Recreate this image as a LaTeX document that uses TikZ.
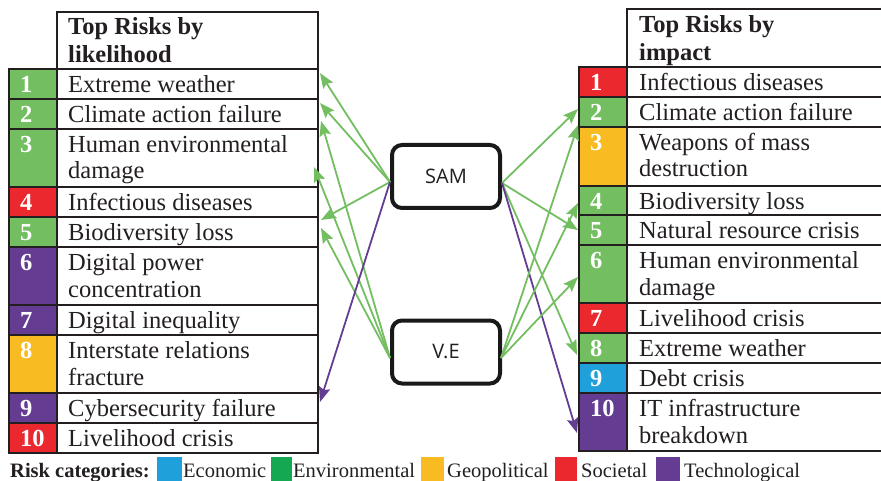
\documentclass[tikz,border=0pt]{standalone}
\usepackage{fontspec}
\setmainfont{Liberation Serif}
\newfontfamily\boxfont{Open Sans}
\usetikzlibrary{arrows.meta,calc}

\definecolor{envgreen}{RGB}{114,190,97}
\definecolor{leggreen}{RGB}{20,168,82}
\definecolor{socred}{RGB}{234,40,46}
\definecolor{geoyellow}{RGB}{248,187,34}
\definecolor{techpurple}{RGB}{100,61,146}
\definecolor{ecoblue}{RGB}{32,160,218}
\definecolor{inkdark}{RGB}{35,31,32}

\tikzset{
  grid/.style={draw=inkdark, line width=1.2pt},
  numtxt/.style={anchor=base west, inner sep=0pt, text=white, font=\fontsize{24.5}{27}\selectfont\bfseries},
  rowtxt/.style={anchor=base west, inner sep=0pt, text=inkdark, font=\fontsize{24.5}{27}\selectfont},
  hdrtxt/.style={rowtxt, font=\fontsize{24.5}{27}\selectfont\bfseries},
  legtxt/.style={anchor=base west, inner sep=0pt, text=inkdark, font=\fontsize{20.5}{22}\selectfont},
  method/.style={draw=black!90, line width=4pt, rounded corners=10pt, minimum width=108pt,
    minimum height=63pt, inner sep=0pt, fill=white, text=inkdark, font=\boxfont\fontsize{20}{22}\selectfont},
  link/.style={draw=envgreen, line width=1.8pt, -{Stealth[length=15pt,width=11.5pt,inset=2.5pt]}},
  techlink/.style={link, draw=techpurple, fill=techpurple},
}

% one table row: name, left x, divider x, right x, top, bottom, colour, number
\newcommand\riskcell[8]{%
  \fill[#7] (#2,#5) rectangle (#3,#6);
  \draw[grid] (#2,#5) rectangle (#4,#6) (#3,#5) -- (#3,#6);
  \node[numtxt] (#1) at (#2+11,#5+23.5) {#8};
}

\begin{document}
\begin{tikzpicture}[x=1pt,y=-1pt]
\useasboundingbox (0,0) rectangle (881,481);

% ---------- ranking by likelihood ----------
\draw[grid] (57,12) rectangle (318,69);
\node[hdrtxt] (lh1) at (68,35) {Top Risks by};
\node[hdrtxt] (lh2) at (68,63) {likelihood};

\riskcell{ln1}{9}{57}{318}{69}{99}{envgreen}{1}
\riskcell{ln2}{9}{57}{318}{99}{129}{envgreen}{2}
\riskcell{ln3}{9}{57}{318}{129}{187}{envgreen}{3}
\riskcell{ln4}{9}{57}{318}{187}{217}{socred}{4}
\riskcell{ln5}{9}{57}{318}{217}{247}{envgreen}{5}
\riskcell{ln6}{9}{57}{318}{247}{305}{techpurple}{6}
\riskcell{ln7}{9}{57}{318}{305}{335}{techpurple}{7}
\riskcell{ln8}{9}{57}{318}{335}{393}{geoyellow}{8}
\riskcell{ln9}{9}{57}{318}{393}{423}{techpurple}{9}
\riskcell{ln10}{9}{57}{318}{423}{453}{socred}{10}

\node[rowtxt] (lt1) at (68,92.5) {Extreme weather};
\node[rowtxt] (lt2) at (68,122.5) {Climate action failure};
\node[rowtxt] (lt3) at (68,152.5) {Human environmental};
\node[rowtxt] (lt3b) at (68,179) {damage};
\node[rowtxt] (lt4) at (68,210.5) {Infectious diseases};
\node[rowtxt] (lt5) at (68,240.5) {Biodiversity loss};
\node[rowtxt] (lt6) at (68,270.5) {Digital power};
\node[rowtxt] (lt6b) at (68,297) {concentration};
\node[rowtxt] (lt7) at (68,328.5) {Digital inequality};
\node[rowtxt] (lt8) at (68,358.5) {Interstate relations};
\node[rowtxt] (lt8b) at (68,385) {fracture};
\node[rowtxt] (lt9) at (68,416.5) {Cybersecurity failure};
\node[rowtxt] (lt10) at (68,446.5) {Livelihood crisis};

% ---------- ranking by impact ----------
\draw[grid] (627,9) rectangle (884,67);
\node[hdrtxt] (rh1) at (639,33) {Top Risks by};
\node[hdrtxt] (rh2) at (639,61) {impact};

\riskcell{rn1}{579}{627}{884}{67}{97}{socred}{1}
\riskcell{rn2}{579}{627}{884}{97}{127}{envgreen}{2}
\riskcell{rn3}{579}{627}{884}{127}{186}{geoyellow}{3}
\riskcell{rn4}{579}{627}{884}{186}{215}{envgreen}{4}
\riskcell{rn5}{579}{627}{884}{215}{245}{envgreen}{5}
\riskcell{rn6}{579}{627}{884}{245}{303}{envgreen}{6}
\riskcell{rn7}{579}{627}{884}{303}{333}{socred}{7}
\riskcell{rn8}{579}{627}{884}{333}{363}{envgreen}{8}
\riskcell{rn9}{579}{627}{884}{363}{393}{ecoblue}{9}
\riskcell{rn10}{579}{627}{884}{393}{451}{techpurple}{10}

\node[rowtxt] (rt1) at (639,90.5) {Infectious diseases};
\node[rowtxt] (rt2) at (639,120.5) {Climate action failure};
\node[rowtxt] (rt3) at (639,150.5) {Weapons of mass};
\node[rowtxt] (rt3b) at (639,177) {destruction};
\node[rowtxt] (rt4) at (639,209.5) {Biodiversity loss};
\node[rowtxt] (rt5) at (639,238.5) {Natural resource crisis};
\node[rowtxt] (rt6) at (639,268.5) {Human environmental};
\node[rowtxt] (rt6b) at (639,295) {damage};
\node[rowtxt] (rt7) at (639,326.5) {Livelihood crisis};
\node[rowtxt] (rt8) at (639,356.5) {Extreme weather};
\node[rowtxt] (rt9) at (639,386.5) {Debt crisis};
\node[rowtxt] (rt10) at (639,416.5) {IT infrastructure};
\node[rowtxt] (rt10b) at (639,443) {breakdown};

% ---------- the two methods ----------
\node[method] (sam) at (446,176.5) {SAM};
\node[method] (ve) at (446,352) {V.E};

\coordinate (samL) at ($(sam.west)+(0,5.5)$);
\coordinate (samR) at ($(sam.east)+(0,6.5)$);
\coordinate (veL) at ($(ve.west)+(0,6)$);
\coordinate (veR) at ($(ve.east)+(-1,6)$);

% arrow targets on the likelihood table
\coordinate (tL1) at (320,73);
\coordinate (tL2a) at (320,103);
\coordinate (tL2b) at (321,121);
\coordinate (tL3) at (314,167);
\coordinate (tL5a) at (321,220);
\coordinate (tL5b) at (321,228);
\coordinate (tL9) at (320,402);
% arrow targets on the impact table
\coordinate (tR2a) at (578,109);
\coordinate (tR2b) at (578,125);
\coordinate (tR4) at (578,203);
\coordinate (tR5) at (578,230);
\coordinate (tR6) at (578,277);
\coordinate (tR8) at (577,355);
\coordinate (tR10) at (577,433);

\draw[link] (samL) -- (tL1);
\draw[link] (samL) -- (tL2a);
\draw[link] (samL) -- (tL5a);
\draw[link] (veL) -- (tL2b);
\draw[link] (veL) -- (tL3);
\draw[link] (veL) -- (tL5b);
\draw[techlink] (samL) -- (tL9);

\draw[link] (samR) -- (tR2a);
\draw[link] (samR) -- (tR5);
\draw[link] (samR) -- (tR8);
\draw[techlink] (samR) -- (tR10);
\draw[link] (veR) -- (tR2b);
\draw[link] (veR) -- (tR4);
\draw[link] (veR) -- (tR6);

% ---------- legend ----------
\node[legtxt, font=\fontsize{20.5}{22}\selectfont\bfseries] (legtitle) at (10,477) {Risk categories:};
\fill[ecoblue] (157,457) rectangle (182,484);
\node[legtxt] (legeco) at (183,477) {Economic};
\fill[leggreen] (271,457) rectangle (292,484);
\node[legtxt] (legenv) at (293,477) {Environmental};
\fill[geoyellow] (421,457) rectangle (444,484);
\node[legtxt] (leggeo) at (447,477) {Geopolitical};
\fill[socred] (555,457) rectangle (577,484);
\node[legtxt] (legsoc) at (581,477) {Societal};
\fill[techpurple] (656,457) rectangle (680,484);
\node[legtxt] (legtech) at (684,477) {Technological};
\end{tikzpicture}
\end{document}
